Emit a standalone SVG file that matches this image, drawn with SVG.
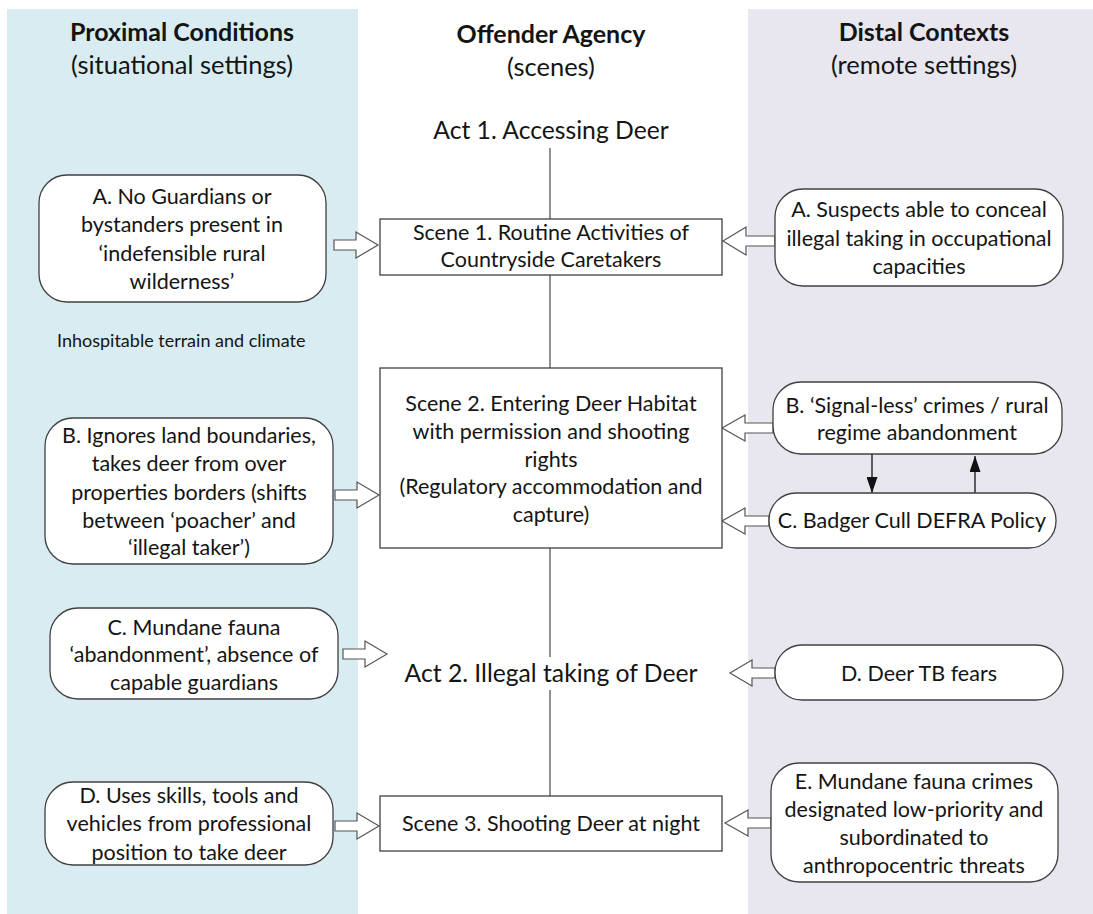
<svg xmlns="http://www.w3.org/2000/svg" width="1093" height="914" viewBox="0 0 1093 914">
  <style>
    text { font-family: Lato, "Open Sans", "Liberation Sans", sans-serif; fill: #141414; text-anchor: middle; }
    .hd { font-size: 25px; font-weight: bold; }
    .sub { font-size: 25.5px; }
    .act { font-size: 24.7px; }
    .t { font-size: 21.5px; }
    .note { font-size: 18px; text-anchor: start; }
    .node { fill: #ffffff; stroke: #404040; stroke-width: 1.3; }
    .spine { stroke: #555555; stroke-width: 1.3; fill: none; }
    .barrow { fill: #ffffff; stroke: #555555; stroke-width: 1.2; stroke-linejoin: miter; }
    .thin { stroke: #111111; stroke-width: 1.3; fill: none; }
  </style>
  <defs>
    <marker id="tri" viewBox="0 0 10 10" refX="10" refY="5" markerWidth="16" markerHeight="11" markerUnits="userSpaceOnUse" orient="auto" preserveAspectRatio="none">
      <path d="M0,0 L10,5 L0,10 Z" fill="#111111"/>
    </marker>
  </defs>

  <!-- column backgrounds -->
  <rect x="7" y="9" width="351" height="905" fill="#d8ecf2"/>
  <rect x="748" y="9" width="345" height="905" fill="#e8e6ef"/>

  <!-- column headings -->
  <g id="head-proximal">
    <text class="hd" x="182" y="41">Proximal Conditions</text>
    <text class="sub" x="182" y="74">(situational settings)</text>
  </g>
  <g id="head-agency">
    <text class="hd" x="551" y="43">Offender Agency</text>
    <text class="sub" x="551" y="76">(scenes)</text>
  </g>
  <g id="head-distal">
    <text class="hd" x="924" y="41">Distal Contexts</text>
    <text class="sub" x="924" y="74">(remote settings)</text>
  </g>

  <!-- connectors -->
  <g id="connectors">
    <line class="spine" x1="550" y1="148" x2="550" y2="219"/>
    <line class="spine" x1="550" y1="275" x2="550" y2="368"/>
    <line class="spine" x1="550" y1="548" x2="550" y2="657"/>
    <line class="spine" x1="550" y1="690" x2="550" y2="796"/>
    <!-- block arrows from the proximal column -->
    <path class="barrow" d="M334,240 H356 V232 L378,245 L356,258 V250 H334 Z"/>
    <path class="barrow" d="M335,490 H357 V482 L379,495 L357,508 V500 H335 Z"/>
    <path class="barrow" d="M343,649 H365 V641 L387,654 L365,667 V659 H343 Z"/>
    <path class="barrow" d="M335,821 H357 V813 L379,826 L357,839 V831 H335 Z"/>
    <!-- block arrows from the distal column -->
    <path class="barrow" d="M775,236 H746 V227 L723,241 L746,255 V246 H775 Z"/>
    <path class="barrow" d="M773,423 H745 V415 L722,428 L745,441 V433 H773 Z"/>
    <path class="barrow" d="M769,516 H745 V508 L722,521 L745,534 V526 H769 Z"/>
    <path class="barrow" d="M775,668 H752 V660 L730,673 L752,686 V678 H775 Z"/>
    <path class="barrow" d="M771,818 H748 V810 L725,823 L748,836 V828 H771 Z"/>
    <!-- feedback between B and C -->
    <line class="thin" x1="872" y1="454" x2="872" y2="493" marker-end="url(#tri)"/>
    <line class="thin" x1="975" y1="493" x2="975" y2="456" marker-end="url(#tri)"/>
  </g>

  <!-- offender agency spine -->
  <g id="act1">
    <text class="act" x="551" y="139">Act 1. Accessing Deer</text>
  </g>
  <g id="scene1">
    <rect class="node" x="380" y="219" width="342" height="56"/>
    <text class="t" x="551" y="240">Scene 1. Routine Activities of</text>
    <text class="t" x="551" y="267">Countryside Caretakers</text>
  </g>
  <g id="scene2">
    <rect class="node" x="380" y="368" width="342" height="180"/>
    <text class="t" x="551" y="411">Scene 2. Entering Deer Habitat</text>
    <text class="t" x="551" y="439">with permission and shooting</text>
    <text class="t" x="551" y="467">rights</text>
    <text class="t" x="551" y="494">(Regulatory accommodation and</text>
    <text class="t" x="551" y="522">capture)</text>
  </g>
  <g id="act2">
    <text class="act" x="551" y="682">Act 2. Illegal taking of Deer</text>
  </g>
  <g id="scene3">
    <rect class="node" x="380" y="796" width="342" height="55"/>
    <text class="t" x="551" y="831">Scene 3. Shooting Deer at night</text>
  </g>

  <!-- proximal conditions -->
  <g id="prox-a">
    <rect class="node" x="39" y="175" width="287" height="127" rx="28"/>
    <text class="t" x="182" y="204">A. No Guardians or</text>
    <text class="t" x="182" y="232">bystanders present in</text>
    <text class="t" x="182" y="261">‘indefensible rural</text>
    <text class="t" x="182" y="289">wilderness’</text>
  </g>
  <g id="prox-note">
    <text class="note" x="57" y="347">Inhospitable terrain and climate</text>
  </g>
  <g id="prox-b">
    <rect class="node" x="45" y="418" width="288" height="146" rx="28"/>
    <text class="t" x="189" y="443">B. Ignores land boundaries,</text>
    <text class="t" x="189" y="471">takes deer from over</text>
    <text class="t" x="189" y="500">properties borders (shifts</text>
    <text class="t" x="189" y="528">between ‘poacher’ and</text>
    <text class="t" x="189" y="555">‘illegal taker’)</text>
  </g>
  <g id="prox-c">
    <rect class="node" x="50" y="608" width="288" height="91" rx="28"/>
    <text class="t" x="194" y="635">C. Mundane fauna</text>
    <text class="t" x="194" y="662">‘abandonment’, absence of</text>
    <text class="t" x="194" y="690">capable guardians</text>
  </g>
  <g id="prox-d">
    <rect class="node" x="45" y="782" width="288" height="83" rx="28"/>
    <text class="t" x="189" y="803">D. Uses skills, tools and</text>
    <text class="t" x="189" y="831">vehicles from professional</text>
    <text class="t" x="189" y="860">position to take deer</text>
  </g>

  <!-- distal contexts -->
  <g id="dist-a">
    <rect class="node" x="775" y="189" width="288" height="97" rx="28"/>
    <text class="t" x="919" y="217">A. Suspects able to conceal</text>
    <text class="t" x="919" y="246">illegal taking in occupational</text>
    <text class="t" x="919" y="274">capacities</text>
  </g>
  <g id="dist-b">
    <rect class="node" x="773" y="382" width="289" height="72" rx="28"/>
    <text class="t" x="917" y="413">B. ‘Signal-less’ crimes / rural</text>
    <text class="t" x="917" y="440">regime abandonment</text>
  </g>
  <g id="dist-c">
    <rect class="node" x="769" y="493" width="287" height="55" rx="27"/>
    <text class="t" x="912" y="528">C. Badger Cull DEFRA Policy</text>
  </g>
  <g id="dist-d">
    <rect class="node" x="775" y="645" width="288" height="55" rx="27"/>
    <text class="t" x="919" y="681">D. Deer TB fears</text>
  </g>
  <g id="dist-e">
    <rect class="node" x="771" y="763" width="287" height="119" rx="28"/>
    <text class="t" x="914" y="789">E. Mundane fauna crimes</text>
    <text class="t" x="914" y="817">designated low-priority and</text>
    <text class="t" x="914" y="845">subordinated to</text>
    <text class="t" x="914" y="873">anthropocentric threats</text>
  </g>
</svg>
